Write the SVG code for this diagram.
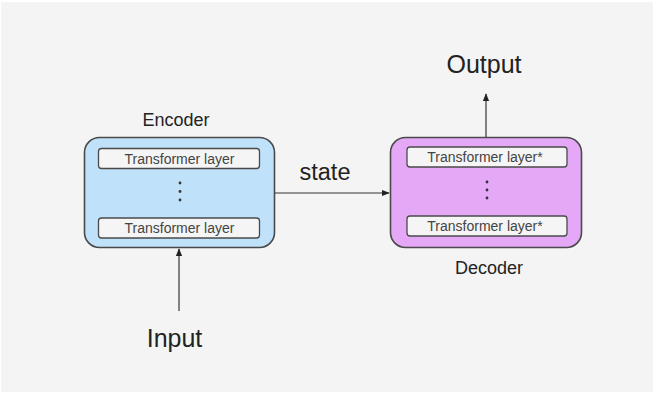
<svg xmlns="http://www.w3.org/2000/svg" width="655" height="394" viewBox="0 0 655 394">
<defs>
<style>
.lbl{font-family:"Liberation Sans",Arial,sans-serif;fill:#222;}
.outer{stroke:#4a4a4a;stroke-width:1.6;}
.inner{fill:#f5f5f5;stroke:#4a4a4a;stroke-width:1.3;}
.it{font-family:"Liberation Sans",Arial,sans-serif;font-size:14px;fill:#444;text-anchor:middle;}
.dot{fill:#333;}
.conn{stroke:#333;stroke-width:1.2;fill:none;marker-end:url(#ah);}
</style>
<marker id="ah" viewBox="0 0 10 10" refX="9" refY="5" markerWidth="8" markerHeight="8" markerUnits="userSpaceOnUse" orient="auto">
<path d="M0,1 L10,5 L0,9 z" fill="#222"/>
</marker>
</defs>
<rect x="0" y="0" width="655" height="394" fill="#ffffff"/>
<rect x="1" y="2" width="652" height="390" fill="#f4f4f4"/>
<g id="encoder">
<text class="lbl" x="176" y="126" font-size="18" text-anchor="middle">Encoder</text>
<rect class="outer" x="84.5" y="137.5" width="190" height="110" rx="15" fill="#bfe2fa"/>
<rect class="inner" x="98.5" y="148.5" width="161" height="20" rx="3"/>
<text class="it" x="179.5" y="163.5">Transformer layer</text>
<circle class="dot" cx="180" cy="183" r="1.4"/>
<circle class="dot" cx="180" cy="191.5" r="1.4"/>
<circle class="dot" cx="180" cy="200" r="1.4"/>
<rect class="inner" x="98.5" y="218" width="161" height="20" rx="3"/>
<text class="it" x="179.5" y="233">Transformer layer</text>
</g>
<g id="decoder">
<rect class="outer" x="390.5" y="137.5" width="191" height="110" rx="15" fill="#e5a8f7"/>
<rect class="inner" x="407" y="147" width="160" height="20" rx="3"/>
<text class="it" x="485" y="162">Transformer layer*</text>
<circle class="dot" cx="487" cy="182" r="1.4"/>
<circle class="dot" cx="487" cy="190" r="1.4"/>
<circle class="dot" cx="487" cy="198" r="1.4"/>
<rect class="inner" x="407" y="216" width="160" height="20" rx="3"/>
<text class="it" x="485" y="231">Transformer layer*</text>
<text class="lbl" x="489" y="274" font-size="18" text-anchor="middle">Decoder</text>
</g>
<g id="input">
<text class="lbl" x="174.5" y="347" font-size="25" text-anchor="middle">Input</text>
</g>
<g id="output">
<text class="lbl" x="484" y="73" font-size="25" text-anchor="middle">Output</text>
</g>
<g id="connectors">
<line class="conn" x1="275" y1="193" x2="389" y2="193"/>
<text class="lbl" x="325" y="180" font-size="23.5" text-anchor="middle">state</text>
<line class="conn" x1="179" y1="311" x2="179" y2="249"/>
<line class="conn" x1="486" y1="137" x2="486" y2="94"/>
</g>
</svg>
